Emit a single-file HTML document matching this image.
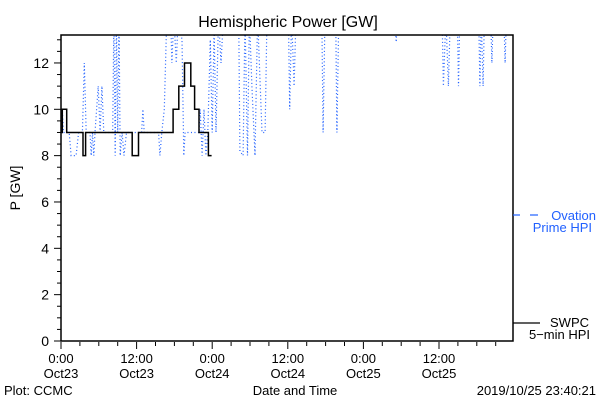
<!DOCTYPE html>
<html><head><meta charset="utf-8"><style>
html,body{margin:0;padding:0;background:#fff;}
svg{display:block;font-family:"Liberation Sans",sans-serif;}
</style></head><body>
<svg id="chart" width="600" height="400" viewBox="0 0 600 400">
<defs><clipPath id="plotclip"><rect x="61" y="35" width="452" height="306"/></clipPath></defs>
<rect x="0" y="0" width="600" height="400" fill="#fff"/>
<text x="288" y="27" font-size="16" text-anchor="middle" fill="#000">Hemispheric Power [GW]</text>
<text x="20" y="188" font-size="14" text-anchor="middle" fill="#000" transform="rotate(-90 20 188)">P [GW]</text>
<text x="295" y="395" font-size="13" text-anchor="middle" fill="#000">Date and Time</text>
<text x="4" y="395" font-size="13" fill="#000">Plot: CCMC</text>
<text x="596" y="395" font-size="13" text-anchor="end" fill="#000">2019/10/25 23:40:21</text>
<g id="axes"></g>
<g id="series" clip-path="url(#plotclip)"></g>
<rect x="61" y="35" width="452" height="306" fill="none" stroke="#000" stroke-width="1.5"/>
<g>
<line x1="513" y1="215" x2="520" y2="215" stroke="#2060ff" stroke-width="1.2"/>
<line x1="530" y1="215" x2="538" y2="215" stroke="#2060ff" stroke-width="1.2"/>
<text x="596" y="220" font-size="13" text-anchor="end" fill="#2060ff">Ovation</text>
<text x="592" y="232" font-size="13" text-anchor="end" fill="#2060ff">Prime HPI</text>
<line x1="513" y1="323" x2="540" y2="323" stroke="#000" stroke-width="1.2"/>
<text x="589" y="327" font-size="13" text-anchor="end" fill="#000">SWPC</text>
<text x="590" y="339" font-size="13" text-anchor="end" fill="#000">5−min HPI</text>
</g>
</svg>
<script>
const yTicks = [0, 2, 4, 6, 8, 10, 12];
const xTickHours = [0, 12, 24, 36, 48, 60];
const xTickTimes = ["0:00", "12:00", "0:00", "12:00", "0:00", "12:00"];
const xTickDates = ["Oct23", "Oct23", "Oct24", "Oct24", "Oct25", "Oct25"];
const swpcHours = [0.1, 0.2, 0.9, 3.5, 3.9, 11.3, 12.3, 17.8, 18.7, 19.6, 20.6, 21.2, 21.9, 23.4, 23.9];
const swpcValues = [9, 10, 9, 8, 9, 8, 9, 10, 11, 12, 11, 10, 9, 8, 8];
const ovHours = [0, 0.2, 0.4, 1.3, 1.6, 2.4, 2.8, 3.4, 3.7, 4.0, 4.6, 4.8, 5.0, 5.2, 5.4, 5.9, 6.2, 6.5, 6.8, 8.2, 8.4, 8.6, 8.8, 9.0, 9.2, 9.4, 9.7, 10.0, 10.4, 12.8, 13.0, 13.2, 15.5, 15.7, 16.0, 16.4, 16.8, 17.4, 17.6, 17.9, 18.3, 18.6, 19.2, 19.5, 19.7, 21.9, 22.1, 22.4, 22.7, 23.0, 23.3, 23.7, 24.0, 24.3, 24.6, 25.0, 25.4, 25.8, 28.2, 28.4, 28.9, 29.2, 29.6, 29.9, 30.3, 30.8, 31.2, 31.9, 32.4, 32.7, 36.1, 36.3, 36.6, 37.0, 37.3, 41.4, 41.6, 41.9, 43.6, 43.8, 44.1, 53.0, 53.2, 53.4, 60.5, 60.7, 61.1, 61.5, 61.8, 62.9, 63.1, 63.3, 66.3, 66.5, 66.7, 67.0, 67.2, 68.2, 68.4, 68.6, 70.3, 70.5, 70.7];
const ovValues = [9.5, 10, 9, 9, 8, 8, 9, 9, 12, 9, 9, 8, 9, 8, 9, 11, 9, 11, 9, 9, 14, 8, 14, 9, 14, 8, 9, 8, 9, 9, 10, 9, 9, 8, 9, 10, 14, 14, 12, 14, 12, 14, 13, 8, 9, 9, 10, 8, 10, 8, 9, 13, 9, 13.5, 9, 14, 12, 14, 14, 8.2, 8, 14, 8, 14, 11, 8, 14, 9, 9, 14, 14, 10, 14, 11, 14, 14, 9, 14, 14, 9, 14, 14, 12.9, 14, 14, 11, 14, 11, 14, 14, 11, 14, 14, 11, 14, 11, 14, 14, 12, 14, 14, 12, 14];

const X0 = 61, PXH = 6.3, Y0 = 341, PXV = 23.17;
function xs(h){ return X0 + h * PXH; }
function ys(v){ return Y0 - v * PXV; }
const NS = "http://www.w3.org/2000/svg";
const axes = document.getElementById("axes");
const series = document.getElementById("series");
function mk(tag, attrs, parent){ const e = document.createElementNS(NS, tag); for (const k in attrs) e.setAttribute(k, attrs[k]); parent.appendChild(e); return e; }

// y ticks (minor every 0.5)
for (let v = 0; v <= 13; v += 0.5) {
  const major = yTicks.indexOf(v) >= 0;
  const t = mk("line", {x1: X0, x2: X0 - (major ? 7 : 4), y1: ys(v), y2: ys(v), stroke: "#000", "stroke-width": 1}, axes);
  
  
}
yTicks.forEach(v => {
  const t = mk("text", {x: 49, y: ys(v) + 5, "font-size": 14, "text-anchor": "end", fill: "#000"}, axes);
  t.textContent = String(v);
  
  
});
// x ticks (minor every 3h)
for (let h = 0; h <= 71; h += 3) {
  const major = h % 12 === 0;
  const t = mk("line", {x1: xs(h), x2: xs(h), y1: Y0 + 1, y2: Y0 + (major ? 8 : 5), stroke: "#000", "stroke-width": 1}, axes);
  
  
}
xTickHours.forEach((h, i) => {
  const a = mk("text", {x: xs(h), y: 363, "font-size": 13, "text-anchor": "middle", fill: "#000"}, axes);
  a.textContent = xTickTimes[i];
  
  
  const b = mk("text", {x: xs(h), y: 378, "font-size": 13, "text-anchor": "middle", fill: "#000"}, axes);
  b.textContent = xTickDates[i];
  
  
});

// Ovation dotted line
let ovPts = ovHours.map((h, i) => xs(h).toFixed(1) + "," + ys(ovValues[i]).toFixed(1)).join(" ");
const ov = mk("polyline", {points: ovPts, fill: "none", stroke: "#2060ff", "stroke-width": 1.2, "stroke-dasharray": "1 2.5"}, series);



// SWPC step line
let sp = [];
swpcHours.forEach((h, i) => {
  if (i > 0) sp.push(xs(h).toFixed(1) + "," + ys(swpcValues[i - 1]).toFixed(1));
  sp.push(xs(h).toFixed(1) + "," + ys(swpcValues[i]).toFixed(1));
});
const sw = mk("polyline", {points: sp.join(" "), fill: "none", stroke: "#000", "stroke-width": 1.5}, series);


</script>
</body></html>
